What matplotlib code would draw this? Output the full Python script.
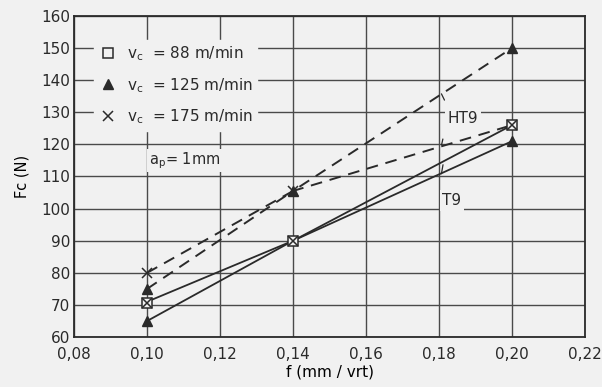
import matplotlib
matplotlib.use('Agg')
import matplotlib.pyplot as plt

# feed values (mm/vrt)
f = [0.10, 0.14, 0.20]

# line curves
ht9_upper = [80, 105.5, 150]
ht9_lower = [75, 105.5, 126]
t9_upper = [71, 90, 126]
t9_lower = [65, 90, 121]

# measured points per cutting speed
sq_f = [0.10, 0.14, 0.20]
sq_fc = [70.5, 90, 126]
tri_f = [0.10, 0.10, 0.14, 0.20, 0.20]
tri_fc = [65, 75, 105.5, 121, 150]
x_f = [0.10, 0.10, 0.14, 0.14, 0.20]
x_fc = [80, 70.5, 105.5, 90, 126]

labels = [r'v$_\mathregular{c}$  = 88 m/min',
          r'v$_\mathregular{c}$  = 125 m/min',
          r'v$_\mathregular{c}$  = 175 m/min']

xticks = [0.08, 0.10, 0.12, 0.14, 0.16, 0.18, 0.20, 0.22]
yticks = list(range(60, 161, 10))

bg = '#f1f1f1'
ink = '#2a2a2a'
plt.rcParams['font.family'] = ['DejaVu Sans']
plt.rcParams['text.color'] = ink

fig = plt.figure(figsize=(6.02, 3.87), dpi=100, facecolor=bg)
ax = fig.add_axes([0.123, 0.129, 0.849, 0.83], facecolor=bg)

ax.set_xlim(0.08, 0.22)
ax.set_ylim(60, 160)
ax.set_xticks(xticks)
ax.set_xticklabels([f'{v:.2f}'.replace('.', ',') for v in xticks])
ax.set_yticks(yticks)
ax.tick_params(length=0, labelsize=11, colors=ink)
ax.tick_params(axis='x', pad=7)
ax.tick_params(axis='y', pad=3)
ax.grid(True, color='#4a4a4a', lw=1.0)
ax.set_axisbelow(True)
for s in ax.spines.values():
    s.set_color(ink)
    s.set_linewidth(1.3)

ax.plot(f, ht9_upper, color=ink, lw=1.4, ls=(0, (6, 4)))
ax.plot(f, ht9_lower, color=ink, lw=1.4, ls=(0, (6, 4)))
ax.plot(f, t9_upper, color=ink, lw=1.3)
ax.plot(f, t9_lower, color=ink, lw=1.3)

h1, = ax.plot(sq_f, sq_fc, 's', ms=7, mfc=bg, mec=ink, mew=1.1, ls='none', zorder=5)
h2, = ax.plot(tri_f, tri_fc, '^', ms=7, color=ink, ls='none', zorder=5)
h3, = ax.plot(x_f, x_fc, 'x', ms=7, color=ink, mew=1.1, ls='none', zorder=6)

leg = ax.legend([h1, h2, h3], labels, loc='upper left', bbox_to_anchor=(0.025, 0.95),
                fontsize=11, labelspacing=0.85, handletextpad=0.6, handlelength=1.2,
                borderpad=0.3, facecolor=bg, edgecolor=bg, framealpha=1)
leg.set_zorder(10)

ax.text(0.1005, 115, r'a$_\mathregular{p}$= 1mm', fontsize=10.5, ha='left', va='center',
        bbox=dict(facecolor=bg, edgecolor='none', pad=1))

box = dict(facecolor=bg, edgecolor='none', pad=2)
ax.text(0.1865, 128, 'HT9', fontsize=11, ha='center', va='center', bbox=box, zorder=4)
ax.text(0.1835, 102.5, 'T9', fontsize=11, ha='center', va='center', bbox=box, zorder=4)
ax.annotate('', xy=(0.1803, 136.5), xytext=(0.1818, 133),
            arrowprops=dict(arrowstyle='-', color=ink, lw=0.9))
ax.annotate('', xy=(0.1812, 122.5), xytext=(0.1805, 119),
            arrowprops=dict(arrowstyle='-', color=ink, lw=0.9))
ax.annotate('', xy=(0.1812, 114.5), xytext=(0.1805, 110),
            arrowprops=dict(arrowstyle='-', color=ink, lw=0.9))

ax.set_ylabel('Fc (N)', fontsize=10.5, labelpad=8)
ax.set_xlabel('f (mm / vrt)', fontsize=11, labelpad=2)

fig.savefig('out.png', dpi=100, facecolor=bg)
